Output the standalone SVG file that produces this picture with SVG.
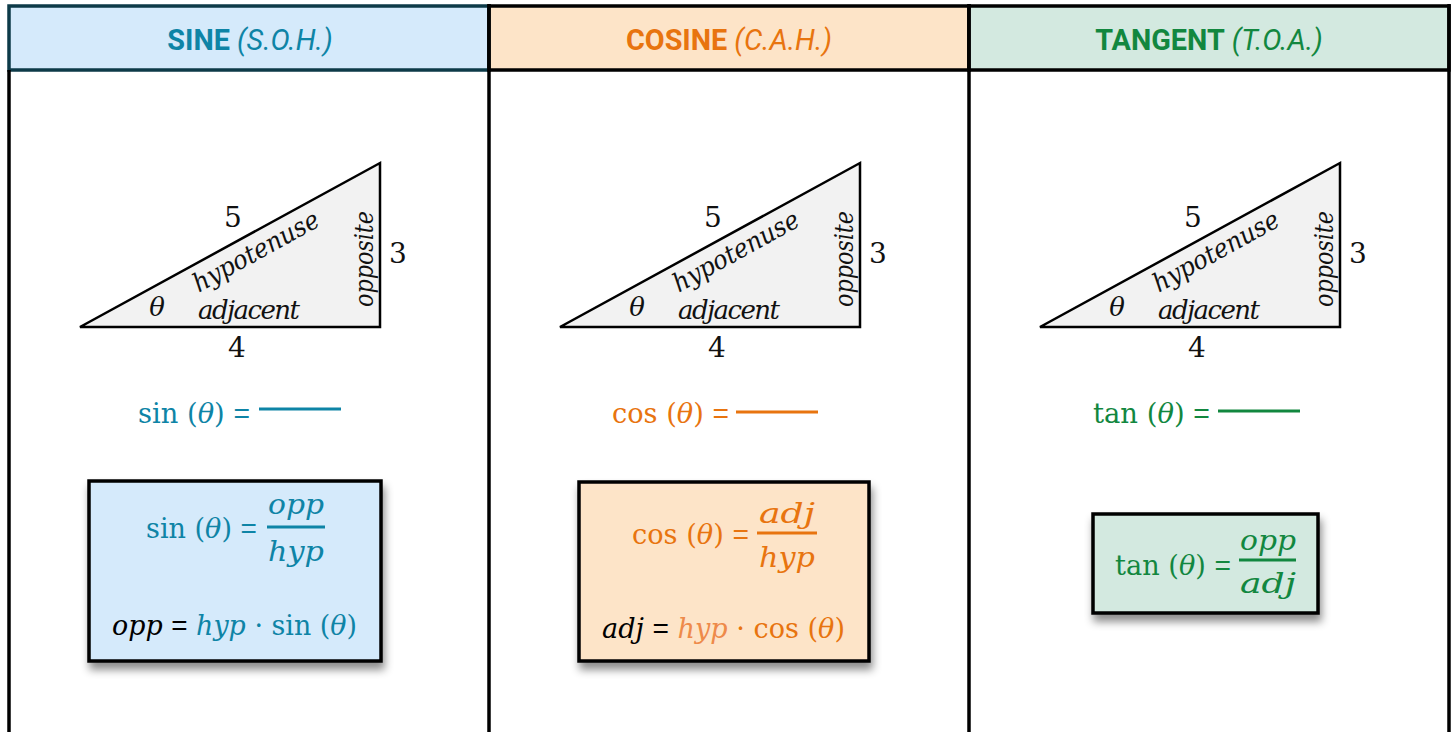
<svg xmlns="http://www.w3.org/2000/svg" width="1455" height="732" viewBox="0 0 1455 732">
<style>
.hdr{font-family:Roboto,"Liberation Sans",sans-serif;font-size:30px;text-anchor:middle}
.b{font-weight:700}
.i{font-style:italic}
.m{font-family:"DejaVu Serif","Liberation Serif",serif;font-size:27px}
.lbl{font-family:"DejaVu Serif","Liberation Serif",serif;font-size:26px;fill:#111}
.num{font-family:"DejaVu Serif","Liberation Serif",serif;font-size:28px;fill:#111;text-anchor:middle}
.eq{font-family:"Liberation Sans",Arial,sans-serif;font-style:normal;font-size:28px}
.tri{fill:#f2f2f2;stroke:#000;stroke-width:2.5;stroke-linejoin:miter}
.sine{fill:#0e84a6}
.cos{fill:#e8740f}
.tan{fill:#12873f}
.frame{stroke:#000;stroke-width:3.5;fill:none}
.box{stroke:#000;stroke-width:3.5}
</style>
<defs>
<filter id="sh" x="-10%" y="-10%" width="120%" height="140%">
<feDropShadow dx="2" dy="7" stdDeviation="4" flood-color="#000" flood-opacity="0.45"/>
</filter>
</defs>
<rect width="1455" height="732" fill="#fff"/>

<g id="sine-column">
<rect x="9" y="6" width="480" height="64" fill="#d5eafb" stroke="#0d3a48" stroke-width="3.5"/>
<text class="hdr" transform="translate(250,50) scale(0.96,1)"><tspan class="b sine">SINE</tspan><tspan class="sine i"> (S.O.H.)</tspan></text>
<g id="sine-triangle">
<polygon class="tri" points="80,327 380,163 380,327"/>
<text class="num" x="233" y="227">5</text>
<text class="lbl i" transform="translate(260,259) rotate(-28.8)" text-anchor="middle" textLength="140" lengthAdjust="spacingAndGlyphs">hypotenuse</text>
<text class="lbl i" transform="translate(373,259) rotate(-90)" text-anchor="middle" textLength="96" lengthAdjust="spacingAndGlyphs">opposite</text>
<text class="num" x="398" y="263">3</text>
<text class="lbl i" x="157" y="316" text-anchor="middle">θ</text>
<text class="lbl i" x="249" y="319" text-anchor="middle" textLength="102" lengthAdjust="spacing">adjacent</text>
<text class="num" x="237" y="357">4</text>
</g>
<g id="sine-blank">
<text class="m sine" x="138" y="423" textLength="112" lengthAdjust="spacingAndGlyphs">sin (<tspan class="i">θ</tspan>) <tspan class="eq">=</tspan></text>
<line x1="259" y1="409" x2="341" y2="409" stroke="#0e84a6" stroke-width="3"/>
</g>
<g id="sine-box">
<rect class="box" x="89" y="481" width="292" height="180" fill="#d5eafb" filter="url(#sh)"/>
<text class="m sine" x="146" y="538" textLength="111" lengthAdjust="spacingAndGlyphs">sin (<tspan class="i">θ</tspan>) <tspan class="eq">=</tspan></text>
<text class="m sine i" x="296" y="514" text-anchor="middle" textLength="56" lengthAdjust="spacingAndGlyphs">opp</text>
<line x1="267" y1="527" x2="325" y2="527" stroke="#0e84a6" stroke-width="3"/>
<text class="m sine i" x="296" y="561" text-anchor="middle" textLength="56" lengthAdjust="spacingAndGlyphs">hyp</text>
<text class="m" x="112" y="635" textLength="245" lengthAdjust="spacingAndGlyphs"><tspan class="i" fill="#000">opp</tspan><tspan fill="#000"> </tspan><tspan class="eq" fill="#000">=</tspan><tspan class="sine"> </tspan><tspan class="i sine">hyp</tspan><tspan class="sine"> · sin (</tspan><tspan class="i sine">θ</tspan><tspan class="sine">)</tspan></text>
</g>
</g>

<g id="cosine-column">
<rect x="489" y="6" width="480" height="64" fill="#fde4c8" stroke="#000" stroke-width="3.5"/>
<text class="hdr" transform="translate(729,50) scale(0.96,1)"><tspan class="b cos">COSINE</tspan><tspan class="cos i"> (C.A.H.)</tspan></text>
<g id="cosine-triangle" transform="translate(480,0)">
<polygon class="tri" points="80,327 380,163 380,327"/>
<text class="num" x="233" y="227">5</text>
<text class="lbl i" transform="translate(260,259) rotate(-28.8)" text-anchor="middle" textLength="140" lengthAdjust="spacingAndGlyphs">hypotenuse</text>
<text class="lbl i" transform="translate(373,259) rotate(-90)" text-anchor="middle" textLength="96" lengthAdjust="spacingAndGlyphs">opposite</text>
<text class="num" x="398" y="263">3</text>
<text class="lbl i" x="157" y="316" text-anchor="middle">θ</text>
<text class="lbl i" x="249" y="319" text-anchor="middle" textLength="102" lengthAdjust="spacing">adjacent</text>
<text class="num" x="237" y="357">4</text>
</g>
<g id="cosine-blank">
<text class="m cos" x="612" y="423" textLength="117" lengthAdjust="spacingAndGlyphs">cos (<tspan class="i">θ</tspan>) <tspan class="eq">=</tspan></text>
<line x1="736" y1="412" x2="818" y2="412" stroke="#e8740f" stroke-width="3"/>
</g>
<g id="cosine-box">
<rect class="box" x="579" y="482" width="290" height="179" fill="#fde4c8" filter="url(#sh)"/>
<text class="m cos" x="632" y="544" textLength="117" lengthAdjust="spacingAndGlyphs">cos (<tspan class="i">θ</tspan>) <tspan class="eq">=</tspan></text>
<text class="m cos i" x="787" y="523" text-anchor="middle" textLength="56" lengthAdjust="spacingAndGlyphs">adj</text>
<line x1="757" y1="533" x2="817" y2="533" stroke="#e8740f" stroke-width="3"/>
<text class="m cos i" x="787" y="567" text-anchor="middle" textLength="56" lengthAdjust="spacingAndGlyphs">hyp</text>
<text class="m" x="602" y="638" textLength="243" lengthAdjust="spacingAndGlyphs"><tspan class="i" fill="#000">adj</tspan><tspan fill="#000"> </tspan><tspan class="eq" fill="#000">=</tspan><tspan class="cos"> </tspan><tspan class="i" fill="#ee8a4a">hyp</tspan><tspan class="cos"> · cos (</tspan><tspan class="i cos">θ</tspan><tspan class="cos">)</tspan></text>
</g>
</g>

<g id="tangent-column">
<rect x="969" y="6" width="480" height="64" fill="#d3e9e0" stroke="#000" stroke-width="3.5"/>
<text class="hdr" transform="translate(1209,50) scale(0.96,1)"><tspan class="b tan">TANGENT</tspan><tspan class="tan i"> (T.O.A.)</tspan></text>
<g id="tangent-triangle" transform="translate(960,0)">
<polygon class="tri" points="80,327 380,163 380,327"/>
<text class="num" x="233" y="227">5</text>
<text class="lbl i" transform="translate(260,259) rotate(-28.8)" text-anchor="middle" textLength="140" lengthAdjust="spacingAndGlyphs">hypotenuse</text>
<text class="lbl i" transform="translate(373,259) rotate(-90)" text-anchor="middle" textLength="96" lengthAdjust="spacingAndGlyphs">opposite</text>
<text class="num" x="398" y="263">3</text>
<text class="lbl i" x="157" y="316" text-anchor="middle">θ</text>
<text class="lbl i" x="249" y="319" text-anchor="middle" textLength="102" lengthAdjust="spacing">adjacent</text>
<text class="num" x="237" y="357">4</text>
</g>
<g id="tangent-blank">
<text class="m tan" x="1093" y="423" textLength="117" lengthAdjust="spacingAndGlyphs">tan (<tspan class="i">θ</tspan>) <tspan class="eq">=</tspan></text>
<line x1="1218" y1="411" x2="1300" y2="411" stroke="#12873f" stroke-width="3"/>
</g>
<g id="tangent-box">
<rect class="box" x="1093" y="514" width="225" height="99" fill="#d3e9e0" filter="url(#sh)"/>
<text class="m tan" x="1115" y="575" textLength="116" lengthAdjust="spacingAndGlyphs">tan (<tspan class="i">θ</tspan>) <tspan class="eq">=</tspan></text>
<text class="m tan i" x="1268" y="550" text-anchor="middle" textLength="56" lengthAdjust="spacingAndGlyphs">opp</text>
<line x1="1239" y1="560" x2="1296" y2="560" stroke="#12873f" stroke-width="3"/>
<text class="m tan i" x="1268" y="593" text-anchor="middle" textLength="56" lengthAdjust="spacingAndGlyphs">adj</text>
</g>
</g>

<g id="frame-lines">
<line class="frame" x1="9" y1="70" x2="9" y2="732"/>
<line class="frame" x1="489" y1="4" x2="489" y2="732"/>
<line class="frame" x1="969" y1="4" x2="969" y2="732"/>
<line class="frame" x1="1449" y1="4" x2="1449" y2="732"/>
</g>
</svg>
